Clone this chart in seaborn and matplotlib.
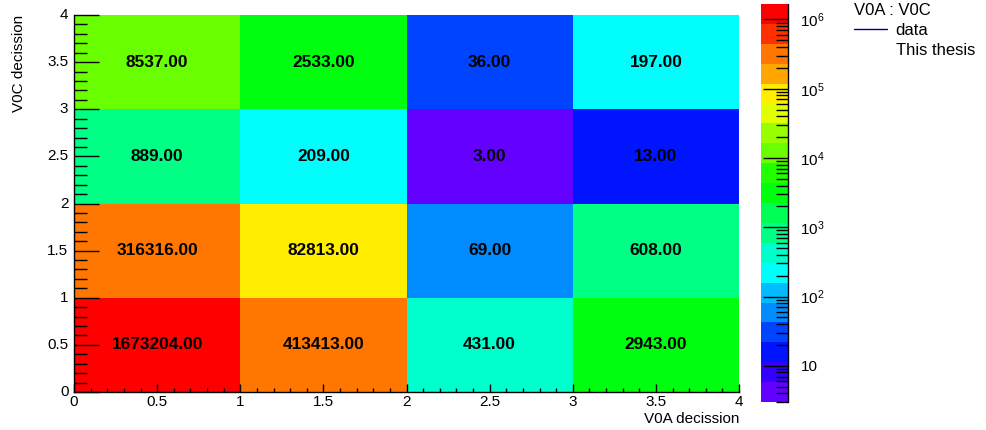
import colorsys
import numpy as np
import pandas as pd
import matplotlib
matplotlib.use("Agg")
import matplotlib.pyplot as plt
import seaborn as sns
from matplotlib.colors import ListedColormap, LogNorm
from matplotlib.lines import Line2D
from matplotlib.ticker import MultipleLocator, FuncFormatter, LogLocator, NullFormatter

# --- data: V0A vs V0C decision counts ---
v0a_bins = [0, 1, 2, 3]          # lower edges of x bins
v0c_bins = [0, 1, 2, 3]          # lower edges of y bins
# counts[row = V0C bin][col = V0A bin]
counts_v0c0 = [1673204, 413413, 431, 2943]
counts_v0c1 = [316316, 82813, 69, 608]
counts_v0c2 = [889, 209, 3, 13]
counts_v0c3 = [8537, 2533, 36, 197]

z_min = 3
z_max = 1673204
n_contours = 20

sns.set_style("ticks")
plt.rcParams['font.family'] = ['Liberation Sans', 'DejaVu Sans']
plt.rcParams['mathtext.default'] = 'regular'
plt.rcParams['axes.axisbelow'] = False

df = pd.DataFrame([counts_v0c0, counts_v0c1, counts_v0c2, counts_v0c3],
                  index=v0c_bins, columns=v0a_bins)

# ROOT style "pretty" palette (violet -> red), sampled for 20 contours
pretty = []
for i in range(50):
    hue = 280 - (i + 1) * (280 / 50)
    pretty.append(colorsys.hls_to_rgb(hue / 360.0, 0.5, 1.0))
levels = [pretty[int((j + 0.99) * 50 / n_contours)] for j in range(n_contours)]
cmap = ListedColormap(levels)
norm = LogNorm(vmin=z_min, vmax=z_max)

fig = plt.figure(figsize=(9.86, 4.30), dpi=100)
ax = fig.add_axes([74 / 986, 38 / 430, 665 / 986, 377 / 430])
cax = fig.add_axes([761 / 986, 28 / 430, 27 / 986, 398 / 430])

sns.heatmap(df, ax=ax, cmap=cmap, norm=norm, annot=True, fmt=".2f",
            annot_kws={"color": "black", "fontsize": 12.4, "fontweight": "bold"},
            cbar_ax=cax, linewidths=0)
ax.set_axisbelow(False)
cax.set_axisbelow(False)

ax.set_xlim(0, 4)
ax.set_ylim(0, 4)
major = np.arange(0, 4.01, 0.5)
fmt = lambda v: ("%g" % v)
ax.set_xticks(major, labels=[fmt(v) for v in major])
ax.set_yticks(major, labels=[fmt(v) for v in major])
ax.xaxis.set_minor_locator(MultipleLocator(0.1))
ax.yaxis.set_minor_locator(MultipleLocator(0.1))
for s in ['left', 'bottom']:
    ax.spines[s].set_visible(True)
    ax.spines[s].set_color('black')
    ax.spines[s].set_linewidth(1.0)
for s in ['top', 'right']:
    ax.spines[s].set_visible(False)
ax.tick_params(axis='both', which='both', color='black', labelcolor='black')
ax.tick_params(axis='x', which='major', direction='in', length=6, width=1, pad=2,
               labelsize=11, rotation=0)
ax.tick_params(axis='x', which='minor', direction='in', length=3, width=1)
ax.tick_params(axis='y', which='major', direction='in', length=18, width=1, pad=4,
               labelsize=11, rotation=0)
ax.tick_params(axis='y', which='minor', direction='in', length=9, width=1)

ax.set_xlabel("V0A decission", fontsize=11, loc='right', color='black')
ax.set_ylabel("V0C decission", fontsize=11, loc='top', color='black')
ax.xaxis.set_label_coords(1.0, -0.053)
ax.yaxis.set_label_coords(-0.072, 1.0)

# colorbar styling (ROOT palette axis)
cbar = ax.collections[0].colorbar
cbar.outline.set_visible(False)
cax.plot([1, 1], [0, 1], transform=cax.transAxes, color='black', lw=1, clip_on=False)
cax.yaxis.set_major_locator(LogLocator(base=10, numticks=10))
cax.yaxis.set_minor_locator(LogLocator(base=10, subs=np.arange(2, 10), numticks=20))
cax.yaxis.set_minor_formatter(NullFormatter())
cax.yaxis.set_major_formatter(FuncFormatter(
    lambda v, p: "10" if abs(v - 10) < 1e-6 else r"$\mathdefault{10^{%d}}$" % round(np.log10(v))))
cax.tick_params(axis='y', which='both', color='black', labelcolor='black')
cax.tick_params(axis='y', which='major', direction='in', length=18, width=1, pad=9,
                labelsize=11)
cax.tick_params(axis='y', which='minor', direction='in', length=9, width=1)

# legend block
handles = [Line2D([], [], color='navy', lw=1),
           Line2D([], [], color='none')]
leg = ax.legend(handles, ["data", "This thesis"], title="V0A : V0C",
                loc='upper left', bbox_to_anchor=(854 / 986, 1 - 3 / 430),
                bbox_transform=fig.transFigure, frameon=False, fontsize=12,
                title_fontsize=12, handlelength=2.0, handletextpad=0.5,
                labelspacing=0.3, borderpad=0, borderaxespad=0, alignment='left')
for t in leg.get_texts():
    t.set_color('black')
leg.get_title().set_color('black')

fig.savefig("out.png", dpi=100)
